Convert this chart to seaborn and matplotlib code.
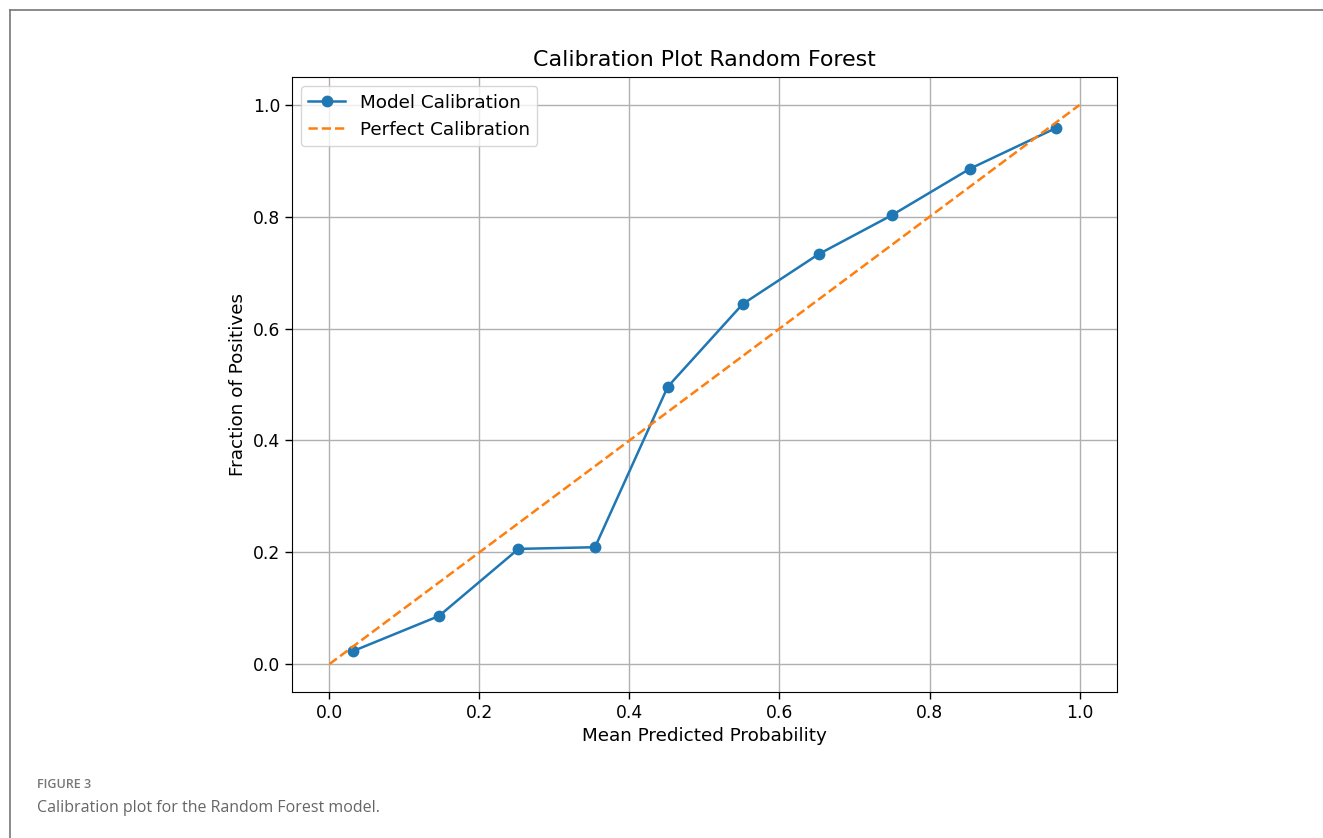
import matplotlib
matplotlib.use("Agg")
import matplotlib.pyplot as plt
from matplotlib.lines import Line2D
import seaborn as sns

# Calibration curve values
mean_predicted = [0.031, 0.146, 0.252, 0.354, 0.451, 0.551, 0.652, 0.750, 0.854, 0.969]
fraction_positives = [0.023, 0.086, 0.206, 0.209, 0.496, 0.644, 0.733, 0.803, 0.886, 0.959]
perfect_x = [0.0, 1.0]
perfect_y = [0.0, 1.0]

plt.rcParams["font.family"] = ["DejaVu Sans"]
plt.rcParams["font.size"] = 12.3

fig = plt.figure(figsize=(13.23, 8.38), dpi=100)
ax = fig.add_axes([0.2207, 0.1742, 0.6236, 0.7339])

sns.lineplot(x=mean_predicted, y=fraction_positives, marker="o", color="#1f77b4",
             linewidth=1.8, markersize=8.5, markeredgewidth=0, label="Model Calibration", ax=ax)
sns.lineplot(x=perfect_x, y=perfect_y, color="#ff7f0e", linestyle="--", linewidth=1.8,
             label="Perfect Calibration", ax=ax)

ax.set_title("Calibration Plot Random Forest", fontsize=15.9, pad=8)
ax.set_xlabel("Mean Predicted Probability", fontsize=13.2)
ax.set_ylabel("Fraction of Positives", fontsize=13.2)
ax.grid(True, color="#b0b0b0", linewidth=1.0)
ax.set_axisbelow(True)
ax.tick_params(length=5, width=1)
ax.legend(loc="upper left", fontsize=13.2)

# caption frame and text
fig.add_artist(Line2D([10 / 1323, 1], [1 - 10 / 838, 1 - 10 / 838], color="#777777", linewidth=1.2))
fig.add_artist(Line2D([10 / 1323, 10 / 1323], [0, 1 - 10 / 838], color="#777777", linewidth=1.2))
fig.text(37 / 1323, 1 - 784 / 838, "FIGURE 3", fontsize=9, color="#777777",
         family=["Open Sans", "DejaVu Sans"], fontweight="semibold", va="center")
fig.text(37 / 1323, 1 - 808 / 838, "Calibration plot for the Random Forest model.", fontsize=11.5,
         color="#666666", family=["Open Sans", "DejaVu Sans"], va="center")

fig.savefig("out.png", dpi=100)
